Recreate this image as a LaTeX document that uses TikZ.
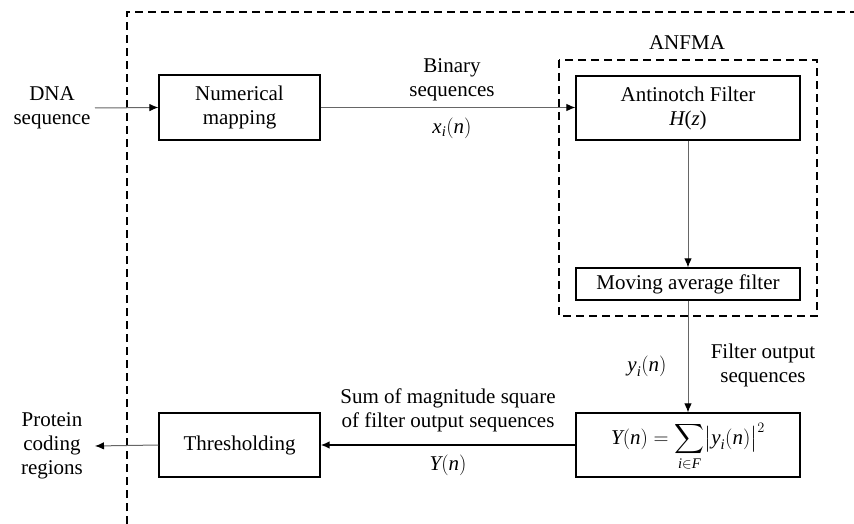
\documentclass[tikz,border=0pt]{standalone}
\usepackage{amsmath}
\usepackage{fontspec}
\setmainfont{Liberation Serif}
\usetikzlibrary{arrows.meta}
\newcommand\vi[1]{\text{\itshape #1}}
\begin{document}
\begin{tikzpicture}[x=1pt,y=-1pt,
  every node/.style={font=\fontsize{21}{24}\selectfont, align=center},
  blk/.style={draw, line width=1.2pt, inner sep=0pt},
  flow/.style={draw=black!60, line width=1pt, -{Latex[length=9pt,width=7.5pt,color=black]}},
  flowdark/.style={draw=black, line width=1.6pt, -{Latex[length=9pt,width=7.5pt]}},
  frame/.style={line width=1.3pt, dash pattern=on 8pt off 5pt}]
\useasboundingbox (0,0) rectangle (854,524);

% outer system boundary (continues past the right and bottom edges)
\draw[frame] (127,524) -- (127,12) -- (854,12);

% ANFMA sub-system
\draw[frame] (559,60) rectangle (817,316);
\node (anfma) at (687,43) {ANFMA};

% blocks
\node[blk, minimum width=161pt, minimum height=65pt] (map) at (239.5,107.5) {Numerical\\mapping};
\node[blk, minimum width=224pt, minimum height=64pt] (anf) at (688,108) {Antinotch Filter\\\vi{H}(\vi{z})};
\node[blk, minimum width=224pt, minimum height=32pt] (ma) at (688,284) {Moving average filter};
\node[blk, minimum width=224pt, minimum height=64pt] (sum) at (688,445) {};
\node (sumeq) at (688,447)
  {$\vi{Y}(\vi{n}) = \displaystyle\sum_{\vi{i}\in \vi{F}} \bigl|\vi{y}_{\vi{i}}(\vi{n})\bigr|^{2}$};
\node[blk, minimum width=161pt, minimum height=64pt] (thr) at (239.5,445) {Thresholding};

% inputs and outputs
\node (dna) at (52,108) {DNA\\sequence};
\node (prot) at (52,446) {Protein\\coding\\regions};
\coordinate (dnaend) at (95,108);
\coordinate (protend) at (95,446);

% connectors
\draw[flow] (dnaend) -- (map.west);
\draw[flow] (map.east) -- (anf.west |- map.east);
\draw[flow] (anf.south) -- (ma.north);
\draw[flow] (ma.south) -- (sum.north);
\draw[flowdark] (sum.west) -- (thr.east);
\draw[flow] (thr.west) -- (protend);

% connector labels
\node (binlab) at (452,80) {Binary\\sequences};
\node (xlab) at (452,128) {$\vi{x}_{\vi{i}}(\vi{n})$};
\node (ylab) at (647,366) {$\vi{y}_{\vi{i}}(\vi{n})$};
\node (foutlab) at (763,365) {Filter output\\sequences};
\node (sumlab) at (448,410) {Sum of magnitude square\\of filter output sequences};
\node (Ylab) at (448,465) {$\vi{Y}(\vi{n})$};
\end{tikzpicture}
\end{document}
